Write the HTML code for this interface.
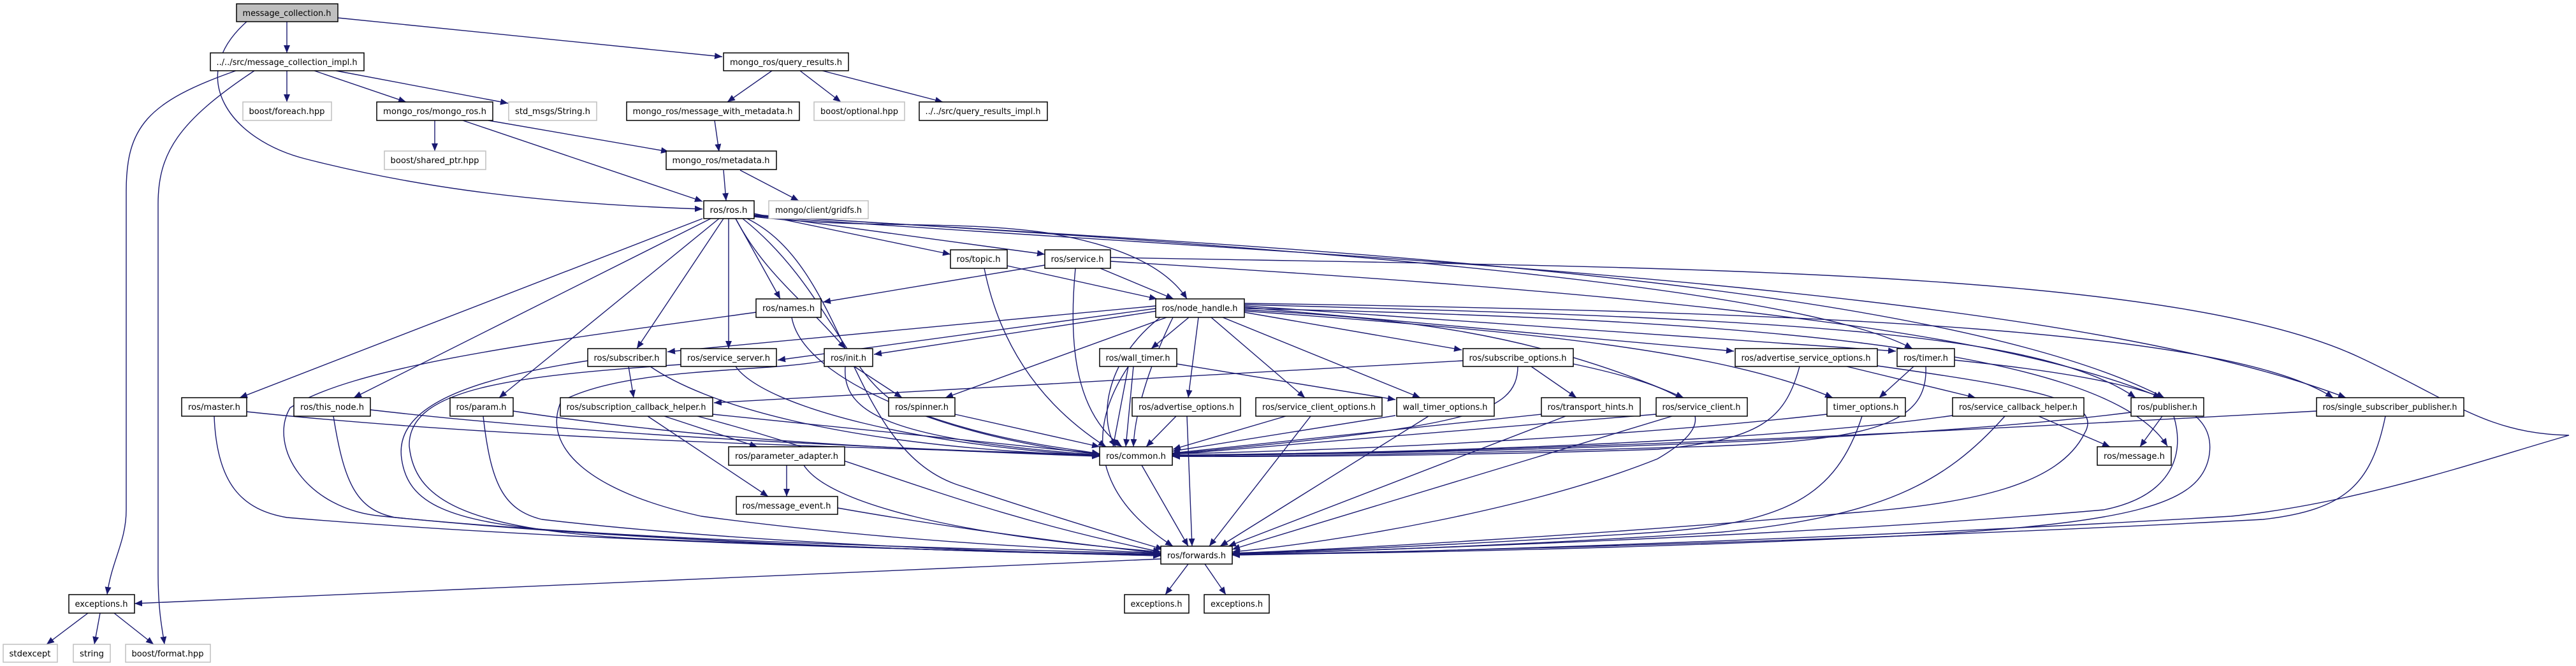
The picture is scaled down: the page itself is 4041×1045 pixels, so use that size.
<!DOCTYPE html>
<html><head><meta charset="utf-8"><style>
html,body{margin:0;padding:0;background:#fff;}
svg{display:block;}
.e{fill:none;stroke:#191970;stroke-width:1.4;}
.n rect{fill:#fff;stroke:#000;stroke-width:1.5;}
.g rect{fill:#fff;stroke:#bfbfbf;stroke-width:1.5;}
text{font-family:"DejaVu Sans","Liberation Sans",sans-serif;font-size:13px;fill:#000;text-anchor:middle;}
</style></head><body>
<svg width="4041" height="1045" viewBox="0 0 4041 1045" xmlns="http://www.w3.org/2000/svg">
<defs><marker id="a" markerUnits="userSpaceOnUse" markerWidth="13" markerHeight="10" refX="12" refY="5" orient="auto"><path d="M0,0 L12,5 L0,10 z" fill="#191970"/></marker></defs>
<g class="e" marker-end="url(#a)">
<path d="M450 34 L450 83"/>
<path d="M530 28 L1133 89"/>
<path d="M387 34 C290 120 360 220 482 250 C620 285 800 318 1102 328"/>
<path d="M450 111 L450 160"/>
<path d="M493 111 L637 160"/>
<path d="M527 111 L797 162"/>
<path d="M370 111 C230 160 198 200 198 300 L198 800 C198 850 175 880 168 933"/>
<path d="M399 111 C280 190 248 240 248 320 L248 900 C248 960 255 990 258 1011"/>
<path d="M1211 111 L1141 160"/>
<path d="M1255 111 L1319 160"/>
<path d="M1290 111 L1479 160"/>
<path d="M682 189 L682 237"/>
<path d="M766 189 L1049 238"/>
<path d="M726 189 L1102 316"/>
<path d="M1121 189 L1128 238"/>
<path d="M1135 267 L1139 315"/>
<path d="M1161 267 L1253 315"/>
<path d="M1102 343 L376 624"/>
<path d="M1115 343 L555 624"/>
<path d="M1128 343 L783 624"/>
<path d="M1135 343 L999 547"/>
<path d="M1143 343 L1143 547"/>
<path d="M1154 343 C1200 430 1260 470 1326 547"/>
<path d="M1154 343 L1224 469"/>
<path d="M1183 335 C1300 360 1400 380 1491 399"/>
<path d="M1183 337 C1350 360 1500 380 1639 399"/>
<path d="M1183 340 C1350 360 1500 345 1640 365 C1760 385 1830 420 1862 469"/>
<path d="M1165 343 C1300 450 1330 600 1420 640 C1550 690 1650 700 1725 712"/>
<path d="M1172 343 C1330 420 1330 700 1500 760 C1650 810 1750 840 1825 862"/>
<path d="M1183 337 C1800 380 3000 420 3395 624"/>
<path d="M1183 339 C2000 400 3200 440 3680 624"/>
<path d="M1183 338 C1900 380 2800 440 3000 547"/>
<path d="M1580 417 L1815 469"/>
<path d="M1544 421 C1570 550 1640 640 1735 701"/>
<path d="M1726 421 L1841 469"/>
<path d="M1639 416 L1291 474"/>
<path d="M1687 421 C1675 550 1690 650 1760 701"/>
<path d="M1742 404 C2600 420 3400 420 3700 560 C3850 630 3900 680 4030 683 C3900 720 3700 790 3500 810 C3000 840 2300 866 1933 871"/>
<path d="M1742 410 C2400 450 3100 500 3390 624"/>
<path d="M1242 498 C1260 600 1500 690 1725 713"/>
<path d="M1186 490 C900 530 560 570 455 640 C420 700 480 800 600 810 C1000 850 1500 860 1821 869"/>
<path d="M922 566 C700 600 620 650 630 720 C640 790 700 820 900 835 C1300 860 1600 868 1821 871"/>
<path d="M1068 572 C800 590 640 610 642 700 C650 780 720 830 1000 845 C1400 862 1650 868 1821 872"/>
<path d="M1293 566 C1200 585 980 575 880 630 C850 700 920 770 1100 810 C1400 850 1650 860 1821 868"/>
<path d="M387 646 C800 690 1300 700 1725 714"/>
<path d="M336 653 C340 760 380 800 450 812 C900 850 1500 865 1821 870"/>
<path d="M581 643 C900 680 1300 700 1725 715"/>
<path d="M523 653 C540 760 560 800 620 812 C1000 850 1500 866 1821 871"/>
<path d="M805 645 C1100 690 1400 705 1725 716"/>
<path d="M758 653 C770 760 790 800 850 815 C1150 850 1550 866 1821 872"/>
<path d="M1042 653 L1188 701"/>
<path d="M1016 653 L1205 779"/>
<path d="M1094 653 C1350 720 1500 800 1821 866"/>
<path d="M1118 650 L1725 712"/>
<path d="M986 575 L994 624"/>
<path d="M1020 575 C1100 630 1300 700 1725 715"/>
<path d="M1154 575 C1200 640 1450 700 1725 715"/>
<path d="M1340 575 L1415 624"/>
<path d="M1326 575 C1320 650 1400 690 1725 714"/>
<path d="M1813 480 L1047 552"/>
<path d="M1813 484 L1220 565"/>
<path d="M1815 488 L1371 556"/>
<path d="M2295 566 L1120 632"/>
<path d="M1830 498 L1483 624"/>
<path d="M1865 498 L1806 547"/>
<path d="M1880 498 L1864 624"/>
<path d="M1900 498 L2047 624"/>
<path d="M1918 498 L2228 624"/>
<path d="M1952 490 L2293 549"/>
<path d="M1952 486 C2200 500 2400 520 2641 624"/>
<path d="M1952 482 L2720 551"/>
<path d="M1952 480 L2974 551"/>
<path d="M1952 488 C2400 520 2700 550 2875 624"/>
<path d="M1952 478 C2800 500 3200 520 3350 624"/>
<path d="M1952 484 C2700 500 3300 540 3400 700"/>
<path d="M1952 476 C2900 490 3500 520 3660 624"/>
<path d="M1840 498 C1800 580 1780 650 1778 701"/>
<path d="M1820 498 C1740 560 1720 650 1750 701"/>
<path d="M1770 575 L1746 701"/>
<path d="M1778 575 L1766 701"/>
<path d="M1846 571 L2189 627"/>
<path d="M1770 575 C1700 680 1720 780 1840 857"/>
<path d="M1498 650 L1725 701"/>
<path d="M1845 653 L1798 701"/>
<path d="M1862 653 L1870 857"/>
<path d="M2017 653 L1840 705"/>
<path d="M2056 653 L1897 857"/>
<path d="M2189 652 L1839 708"/>
<path d="M2241 653 L1914 857"/>
<path d="M2381 575 C2380 650 2300 670 1839 712"/>
<path d="M2402 575 L2473 624"/>
<path d="M2468 571 C2650 610 2720 650 2600 720 C2400 800 2100 850 1933 866"/>
<path d="M2418 650 L1839 711"/>
<path d="M2456 653 L1927 857"/>
<path d="M2598 650 L1839 713"/>
<path d="M2623 653 L1933 862"/>
<path d="M2823 575 C2800 660 2760 690 2600 705 C2300 715 2000 717 1839 716"/>
<path d="M2945 574 C3200 610 3300 630 3270 680 C3230 760 3100 790 2900 805 C2500 840 2100 862 1933 868"/>
<path d="M2897 575 L3099 624"/>
<path d="M3002 575 L2948 624"/>
<path d="M3021 575 C3025 660 2950 690 2690 700 C2300 712 2000 716 1839 716"/>
<path d="M3066 565 C3400 600 3480 640 3465 718 C3450 790 3350 820 3000 840 C2600 860 2200 868 1933 870"/>
<path d="M2866 650 C2600 680 2200 705 1839 712"/>
<path d="M2921 653 C2880 780 2800 820 2600 835 C2300 855 2050 865 1933 868"/>
<path d="M3063 652 C2800 690 2300 710 1839 714"/>
<path d="M3145 653 C3050 760 2950 810 2700 835 C2400 855 2100 866 1933 869"/>
<path d="M3198 653 L3310 701"/>
<path d="M3392 653 L3357 701"/>
<path d="M3343 647 C3000 690 2400 710 1839 715"/>
<path d="M3410 653 C3430 720 3400 780 3300 800 C2900 835 2300 860 1933 869"/>
<path d="M3634 645 C3000 680 2400 710 1839 715"/>
<path d="M3742 653 C3720 760 3680 800 3550 815 C3000 845 2300 865 1933 870"/>
<path d="M1234 730 L1234 779"/>
<path d="M1261 730 C1300 790 1500 840 1821 866"/>
<path d="M1314 797 C1500 830 1700 855 1821 868"/>
<path d="M1791 730 L1864 857"/>
<path d="M1864 885 L1828 933"/>
<path d="M1890 885 L1923 933"/>
<path d="M1821 877 L211 947"/>
<path d="M138 962 L73 1011"/>
<path d="M157 962 L148 1011"/>
<path d="M179 962 L241 1011"/>
</g>
<g class="n">
<rect x="371" y="6" width="159" height="28" style="fill:#bfbfbf"/><text x="450" y="25" textLength="139" lengthAdjust="spacingAndGlyphs">message_collection.h</text>
<rect x="330" y="83" width="241" height="28"/><text x="450" y="102" textLength="221" lengthAdjust="spacingAndGlyphs">../../src/message_collection_impl.h</text>
<rect x="1135" y="83" width="196" height="28"/><text x="1233" y="102" textLength="176" lengthAdjust="spacingAndGlyphs">mongo_ros/query_results.h</text>
<rect x="591" y="160" width="182" height="29"/><text x="682" y="179" textLength="162" lengthAdjust="spacingAndGlyphs">mongo_ros/mongo_ros.h</text>
<rect x="983" y="160" width="271" height="29"/><text x="1118" y="179" textLength="251" lengthAdjust="spacingAndGlyphs">mongo_ros/message_with_metadata.h</text>
<rect x="1442" y="160" width="201" height="29"/><text x="1542" y="179" textLength="181" lengthAdjust="spacingAndGlyphs">../../src/query_results_impl.h</text>
<rect x="1045" y="237" width="173" height="29"/><text x="1131" y="256" textLength="153" lengthAdjust="spacingAndGlyphs">mongo_ros/metadata.h</text>
<rect x="1104" y="315" width="79" height="28"/><text x="1143" y="334" textLength="59" lengthAdjust="spacingAndGlyphs">ros/ros.h</text>
<rect x="1491" y="392" width="89" height="29"/><text x="1535" y="411" textLength="69" lengthAdjust="spacingAndGlyphs">ros/topic.h</text>
<rect x="1639" y="392" width="103" height="29"/><text x="1690" y="411" textLength="83" lengthAdjust="spacingAndGlyphs">ros/service.h</text>
<rect x="1186" y="469" width="102" height="29"/><text x="1237" y="488" textLength="82" lengthAdjust="spacingAndGlyphs">ros/names.h</text>
<rect x="1813" y="469" width="139" height="29"/><text x="1882" y="488" textLength="119" lengthAdjust="spacingAndGlyphs">ros/node_handle.h</text>
<rect x="922" y="547" width="123" height="28"/><text x="983" y="566" textLength="103" lengthAdjust="spacingAndGlyphs">ros/subscriber.h</text>
<rect x="1068" y="547" width="150" height="28"/><text x="1143" y="566" textLength="130" lengthAdjust="spacingAndGlyphs">ros/service_server.h</text>
<rect x="1293" y="547" width="76" height="28"/><text x="1331" y="566" textLength="56" lengthAdjust="spacingAndGlyphs">ros/init.h</text>
<rect x="1725" y="547" width="121" height="28"/><text x="1785" y="566" textLength="101" lengthAdjust="spacingAndGlyphs">ros/wall_timer.h</text>
<rect x="2295" y="547" width="173" height="28"/><text x="2381" y="566" textLength="153" lengthAdjust="spacingAndGlyphs">ros/subscribe_options.h</text>
<rect x="2722" y="547" width="223" height="28"/><text x="2833" y="566" textLength="203" lengthAdjust="spacingAndGlyphs">ros/advertise_service_options.h</text>
<rect x="2976" y="547" width="90" height="28"/><text x="3021" y="566" textLength="70" lengthAdjust="spacingAndGlyphs">ros/timer.h</text>
<rect x="285" y="624" width="102" height="29"/><text x="336" y="643" textLength="82" lengthAdjust="spacingAndGlyphs">ros/master.h</text>
<rect x="461" y="624" width="120" height="29"/><text x="521" y="643" textLength="100" lengthAdjust="spacingAndGlyphs">ros/this_node.h</text>
<rect x="706" y="624" width="99" height="29"/><text x="755" y="643" textLength="79" lengthAdjust="spacingAndGlyphs">ros/param.h</text>
<rect x="879" y="624" width="239" height="29"/><text x="998" y="643" textLength="219" lengthAdjust="spacingAndGlyphs">ros/subscription_callback_helper.h</text>
<rect x="1394" y="624" width="104" height="29"/><text x="1446" y="643" textLength="84" lengthAdjust="spacingAndGlyphs">ros/spinner.h</text>
<rect x="1776" y="624" width="170" height="29"/><text x="1861" y="643" textLength="150" lengthAdjust="spacingAndGlyphs">ros/advertise_options.h</text>
<rect x="1970" y="624" width="198" height="29"/><text x="2069" y="643" textLength="178" lengthAdjust="spacingAndGlyphs">ros/service_client_options.h</text>
<rect x="2191" y="624" width="153" height="29"/><text x="2267" y="643" textLength="133" lengthAdjust="spacingAndGlyphs">wall_timer_options.h</text>
<rect x="2418" y="624" width="155" height="29"/><text x="2495" y="643" textLength="135" lengthAdjust="spacingAndGlyphs">ros/transport_hints.h</text>
<rect x="2598" y="624" width="143" height="29"/><text x="2669" y="643" textLength="123" lengthAdjust="spacingAndGlyphs">ros/service_client.h</text>
<rect x="2866" y="624" width="123" height="29"/><text x="2927" y="643" textLength="103" lengthAdjust="spacingAndGlyphs">timer_options.h</text>
<rect x="3063" y="624" width="206" height="29"/><text x="3166" y="643" textLength="186" lengthAdjust="spacingAndGlyphs">ros/service_callback_helper.h</text>
<rect x="3343" y="624" width="114" height="29"/><text x="3400" y="643" textLength="94" lengthAdjust="spacingAndGlyphs">ros/publisher.h</text>
<rect x="3634" y="624" width="231" height="29"/><text x="3749" y="643" textLength="211" lengthAdjust="spacingAndGlyphs">ros/single_subscriber_publisher.h</text>
<rect x="1143" y="701" width="182" height="29"/><text x="1234" y="720" textLength="162" lengthAdjust="spacingAndGlyphs">ros/parameter_adapter.h</text>
<rect x="1725" y="701" width="114" height="29"/><text x="1782" y="720" textLength="94" lengthAdjust="spacingAndGlyphs">ros/common.h</text>
<rect x="3290" y="701" width="116" height="29"/><text x="3348" y="720" textLength="96" lengthAdjust="spacingAndGlyphs">ros/message.h</text>
<rect x="1155" y="779" width="159" height="28"/><text x="1234" y="798" textLength="139" lengthAdjust="spacingAndGlyphs">ros/message_event.h</text>
<rect x="1821" y="857" width="112" height="28"/><text x="1877" y="876" textLength="92" lengthAdjust="spacingAndGlyphs">ros/forwards.h</text>
<rect x="108" y="933" width="103" height="29"/><text x="159" y="952" textLength="83" lengthAdjust="spacingAndGlyphs">exceptions.h</text>
<rect x="1764" y="933" width="101" height="29"/><text x="1814" y="952" textLength="81" lengthAdjust="spacingAndGlyphs">exceptions.h</text>
<rect x="1889" y="933" width="102" height="29"/><text x="1940" y="952" textLength="82" lengthAdjust="spacingAndGlyphs">exceptions.h</text>
</g>
<g class="g">
<rect x="381" y="160" width="139" height="29"/><text x="450" y="179" textLength="119" lengthAdjust="spacingAndGlyphs">boost/foreach.hpp</text>
<rect x="798" y="160" width="138" height="29"/><text x="867" y="179" textLength="118" lengthAdjust="spacingAndGlyphs">std_msgs/String.h</text>
<rect x="1277" y="160" width="142" height="29"/><text x="1348" y="179" textLength="122" lengthAdjust="spacingAndGlyphs">boost/optional.hpp</text>
<rect x="603" y="237" width="159" height="29"/><text x="682" y="256" textLength="139" lengthAdjust="spacingAndGlyphs">boost/shared_ptr.hpp</text>
<rect x="1206" y="315" width="156" height="28"/><text x="1284" y="334" textLength="136" lengthAdjust="spacingAndGlyphs">mongo/client/gridfs.h</text>
<rect x="5" y="1011" width="85" height="28"/><text x="47" y="1030" textLength="65" lengthAdjust="spacingAndGlyphs">stdexcept</text>
<rect x="115" y="1011" width="58" height="28"/><text x="144" y="1030" textLength="38" lengthAdjust="spacingAndGlyphs">string</text>
<rect x="197" y="1011" width="133" height="28"/><text x="263" y="1030" textLength="113" lengthAdjust="spacingAndGlyphs">boost/format.hpp</text>
</g>
</svg>
</body></html>
